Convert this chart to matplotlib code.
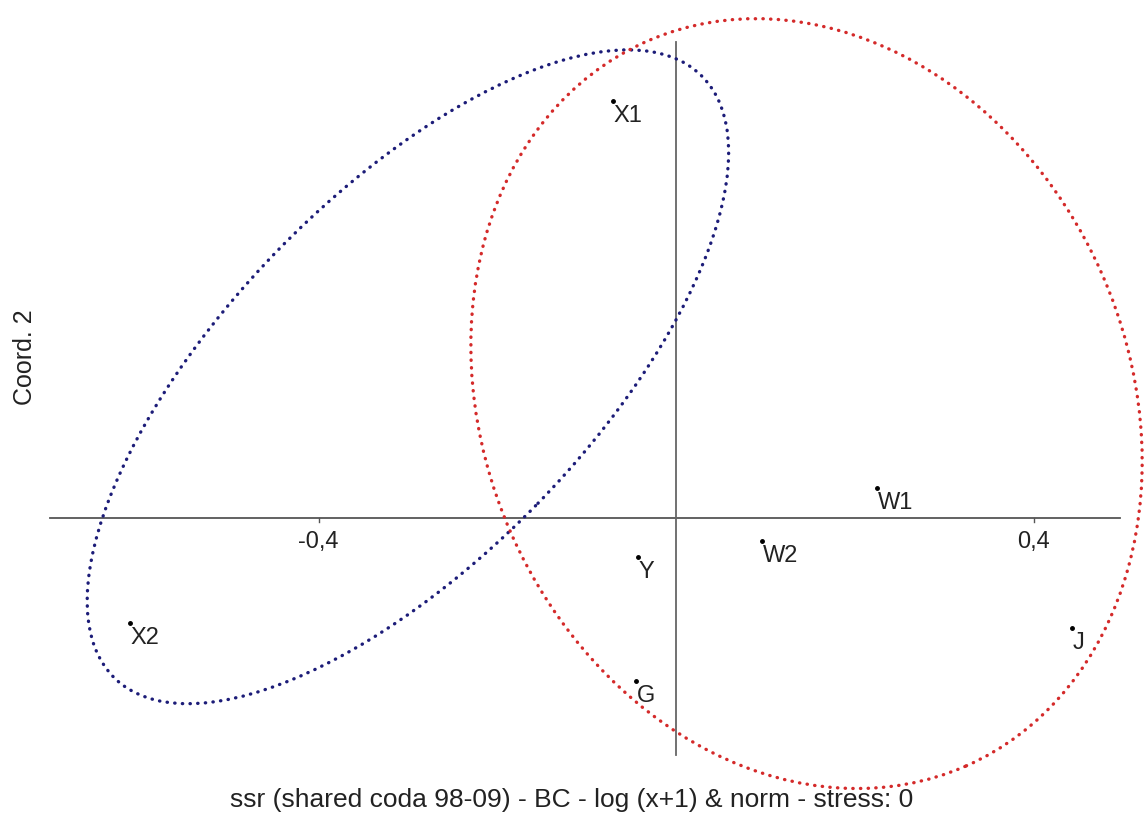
import matplotlib.pyplot as plt
from matplotlib.patches import Ellipse

# NMDS coordinates of the samples
labels = ['X1', 'X2', 'Y', 'G', 'W2', 'W1', 'J']
coord1 = [-0.0705, -0.611, -0.0425, -0.0448, 0.0962, 0.225, 0.443]
coord2 = [0.4666, -0.1175, -0.0436, -0.182, -0.0257, 0.0336, -0.123]

# group ellipses: centre x, centre y, width, height, angle
blue_ell = [-0.300, 0.158, 0.941, 0.406, 45.8]
red_ell = [0.146, 0.128, 0.722, 0.886, 23.8]

xticks = [-0.4, 0.4]
xticklabels = ['-0,4', '0,4']

plt.rcParams['font.family'] = ['Liberation Sans', 'DejaVu Sans']

fig = plt.figure(figsize=(11.44, 8.19), dpi=100)
ax = fig.add_axes([0, 0, 1, 1])
ax.set_xlim(-0.7564, 0.5236)
ax.set_ylim(-0.3368, 0.5796)
ax.axis('off')

# axes through the origin
ax.plot([-0.700, 0.497], [0, 0], color='#555555', lw=1.3, zorder=1)
ax.plot([0, 0], [-0.265, 0.533], color='#666666', lw=1.3, zorder=1)
for t, lab in zip(xticks, xticklabels):
    ax.plot([t, t], [0, -0.005], color='#555555', lw=1.0)
    ax.text(t, -0.014, lab, ha='center', va='top', fontsize=17, color='#222222')

for params, col in [(blue_ell, '#1c1c78'), (red_ell, '#d42a2a')]:
    e = Ellipse((params[0], params[1]), params[2], params[3], angle=params[4],
                fill=False, edgecolor=col, lw=2.4, linestyle=(0, (0.1, 2.2)),
                capstyle='round', zorder=2)
    ax.add_patch(e)

ax.plot(coord1, coord2, 'o', color='black', markersize=2.5, zorder=3)
for x, y, lab in zip(coord1, coord2, labels):
    ax.annotate(lab, (x, y), xytext=(0.5, -3), textcoords='offset points',
                ha='left', va='top', fontsize=17, color='#222222', zorder=3)

fig.text(572 / 1144, 1 - 800 / 819, 'ssr (shared coda 98-09) - BC - log (x+1) & norm - stress: 0',
         ha='center', va='center', fontsize=19, color='#222222')
fig.text(25 / 1144, 1 - 357 / 819, 'Coord. 2', rotation=90, ha='center', va='center',
         fontsize=18, color='#222222')

fig.savefig('out.png', dpi=100)
